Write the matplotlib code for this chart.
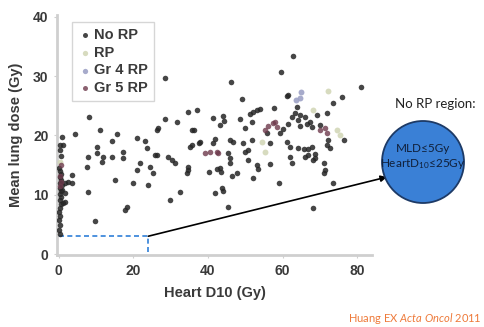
import numpy as np
import matplotlib
matplotlib.use("Agg")
import matplotlib.pyplot as plt
from matplotlib.patches import Ellipse

plt.rcParams['font.family'] = ['Liberation Sans', 'DejaVu Sans']
plt.rcParams['mathtext.fontset'] = 'custom'
plt.rcParams['mathtext.rm'] = 'Lato'
plt.rcParams['mathtext.it'] = 'Lato:italic'

# Heart D10 (Gy), mean lung dose (Gy)
no_rp_x = [8.0, 11.0, 4.3, 0.8, 1.1, 15.5, 14.2, 20.9, 23.1, 26.3, 10.2, 10.2, 7.8, 11.8,
           14.2, 17.2, 17.2, 23.6, 21.7, 24.4, 26.3, 7.5, 11.5, 29.2, 31.1, 35.7, 37.5,
           35.7, 20.9, 25.2, 15.0, 34.6, 34.3, 3.5, 2.4, 3.5, 19.8, 23.9, 7.8, 32.4, 29.8,
           18.2, 17.7, 9.7, 1.6, 1.6, 28.4, 46.1, 49.1, 34.6, 37.0, 28.4, 31.6, 41.3, 44.0,
           44.2, 48.5, 51.2, 51.7, 53.1, 26.5, 36.2, 43.2, 49.9, 37.8, 41.8, 41.3, 45.8,
           46.6, 49.3, 51.7, 35.1, 45.3, 45.8, 49.9, 50.7, 30.3, 34.6, 45.8, 43.2, 50.7,
           53.1, 62.7, 59.5, 61.1, 75.9, 73.5, 53.9, 57.6, 59.2, 60.1, 61.4, 62.5, 63.3,
           63.8, 64.1, 64.6, 66.0, 66.5, 67.3, 67.8, 69.2, 70.0, 72.1, 71.8, 76.4, 56.6,
           61.1, 61.9, 64.1, 65.7, 66.8, 67.8, 68.6, 61.9, 62.5, 66.0, 68.1, 71.0, 71.0,
           73.5, 59.0, 56.6, 53.4, 52.0, 40.2, 42.4, 43.4, 46.4, 47.7, 41.8, 43.7, 44.0,
           45.3, 68.1, 81.0, 52.0, 64.6, 71.8, 55.8, 72.7, 66.8, 68.6, 71.3, 61.4, 25.7,
           0.3, 0.3, 0.5, 0.0, 0.3, 0.5, 0.3, 0.5, 0.3, 0.8, 0.3, 0.5, 0.3, 0.5, 0.3, 0.5,
           0.3, 0.0, 0.3, 0.0, 0.3, 0.0, 0.3, 0.8, 1.1, 1.6]
no_rp_y = [23.1, 20.9, 20.2, 19.7, 18.4, 20.2, 19.1, 19.6, 19.1, 20.9, 18.0, 17.0, 16.4, 16.4,
           16.4, 17.2, 16.2, 17.9, 15.3, 14.7, 16.7, 14.7, 15.5, 16.4, 15.3, 18.4, 18.7,
           20.9, 14.2, 13.7, 12.5, 14.2, 13.7, 13.3, 12.1, 12.0, 12.0, 11.6, 10.5, 10.5, 9.1,
           7.9, 7.4, 5.6, 12.0, 8.8, 29.7, 29.0, 26.1, 23.9, 24.3, 22.8, 22.3, 22.9, 23.3,
           22.4, 22.8, 23.6, 22.3, 24.3, 21.2, 20.9, 21.8, 21.2, 18.9, 19.4, 18.7, 19.2,
           18.9, 18.7, 19.2, 18.0, 17.0, 16.2, 17.2, 17.5, 15.9, 14.7, 15.3, 14.5, 15.9,
           15.0, 33.4, 30.7, 26.6, 26.5, 25.5, 24.5, 24.6, 20.4, 21.1, 21.9, 23.1, 23.8,
           24.8, 22.6, 21.6, 23.1, 21.9, 22.3, 21.4, 23.4, 21.8, 19.2, 18.4, 19.2, 18.7,
           18.9, 18.0, 17.9, 17.7, 17.7, 18.0, 16.9, 16.4, 15.3, 16.4, 15.9, 15.3, 13.7,
           12.0, 12.0, 15.2, 14.3, 12.8, 13.8, 14.3, 13.8, 13.2, 13.7, 10.3, 11.1, 10.6,
           7.9, 7.8, 28.2, 23.9, 23.4, 23.8, 20.4, 17.9, 16.7, 16.2, 14.2, 26.8, 16.7,
           18.4, 17.5, 16.5, 14.5, 14.0, 13.5, 13.0, 12.5, 12.0, 11.6, 11.1, 10.6, 10.1, 9.6,
           9.1, 8.4, 7.8, 7.1, 6.4, 5.7, 4.9, 4.0, 3.4, 10.8, 8.6, 10.3]

rp_x = [0.3, 72.1, 68.1, 74.5, 55.2, 75.5, 54.4]
rp_y = [15.5, 27.5, 24.3, 20.9, 17.2, 20.0, 18.9]

gr4_x = [64.6, 65.0, 63.6]
gr4_y = [26.3, 27.3, 25.9]

gr5_x = [39.1, 40.5, 42.4, 42.6, 55.2, 56.0, 57.4, 58.4, 57.9, 0.3, 0.5, 0.3, 0.5, 71.3, 71.8, 70.0]
gr5_y = [17.0, 17.2, 17.2, 17.0, 20.9, 21.6, 22.1, 21.4, 22.3, 13.2, 12.2, 11.4, 15.0, 21.2, 20.4, 20.9]

# no-RP region limits as drawn
box_x = 24
box_y = 3

fig = plt.figure(figsize=(4.84, 3.27), dpi=100)
ax = fig.add_axes([57 / 484, 0.2196, 315 / 484, 0.7346])

ax.scatter(no_rp_x, no_rp_y, s=16, color='#262626', alpha=0.85, linewidths=0, label='No RP', zorder=3)
ax.scatter(rp_x, rp_y, s=18, color='#d3d7b8', alpha=0.9, linewidths=0, label='RP', zorder=3)
ax.scatter(gr4_x, gr4_y, s=18, color='#9ea2c6', alpha=0.9, linewidths=0, label='Gr 4 RP', zorder=3)
ax.scatter(gr5_x, gr5_y, s=16, color='#6e3a4c', alpha=0.8, linewidths=0, label='Gr 5 RP', zorder=3)

ax.plot([0, box_x, box_x], [box_y, box_y, 0], ls='--', color='#2f7fd8', lw=1.2, zorder=2,
        dashes=(3, 2))

ax.set_xlim(-0.5, 84)
ax.set_ylim(-0.2, 40.3)
ax.set_xticks([0, 20, 40, 60, 80])
ax.set_yticks([0, 10, 20, 30, 40])
for s in ['top', 'right']:
    ax.spines[s].set_visible(False)
for s in ['left', 'bottom']:
    ax.spines[s].set_color('#cfcfcf')
    ax.spines[s].set_linewidth(2)
ax.tick_params(length=2, color='#cfcfcf', labelcolor='#3a3a3a', labelsize=10, pad=4)
for lab in ax.get_xticklabels() + ax.get_yticklabels():
    lab.set_fontweight('bold')

ax.set_xlabel('Heart D10 (Gy)', fontsize=10.5, fontweight='bold', color='#3a3a3a', labelpad=6)
ax.set_ylabel('Mean lung dose (Gy)', fontsize=10.5, fontweight='bold', color='#3a3a3a', labelpad=7)

leg = ax.legend(loc='upper left', bbox_to_anchor=(0.025, 1.0), frameon=True, fancybox=False,
                handletextpad=0.1, handlelength=1.0, labelspacing=0.25, borderpad=0.4,
                prop={'weight': 'bold', 'size': 10.5}, markerscale=0.9)
leg.get_frame().set_edgecolor('#cccccc')
leg.get_frame().set_linewidth(1.0)
for t in leg.get_texts():
    t.set_color('#3a3a3a')

# arrow to the region bubble
ax.annotate('', xy=(387 / 484, 1 - 177 / 327), xycoords='figure fraction',
            xytext=(box_x, box_y), textcoords='data', annotation_clip=False,
            arrowprops=dict(arrowstyle='-|>', color='black', lw=1.2, mutation_scale=9,
                            shrinkA=0, shrinkB=0))

bubble = Ellipse((423 / 484, 1 - 162 / 327), 82 / 484, 82 / 327, transform=fig.transFigure,
                 facecolor='#3a80d6', edgecolor='#1d3a66', lw=1.3)
fig.add_artist(bubble)
fig.text(435 / 484, 1 - 104 / 327, 'No RP region:', ha='center', va='center', fontsize=9.5,
         family=['Lato', 'DejaVu Sans'], color='#222222')
fig.text(423 / 484, 1 - 149 / 327, 'MLD≤5Gy', ha='center', va='center', fontsize=8.5,
         family=['Lato', 'DejaVu Sans'], color='#10203a')
fig.text(423 / 484, 1 - 164 / 327, r'HeartD$_{10}$≤25Gy', ha='center', va='center', fontsize=8.5,
         family=['Lato', 'DejaVu Sans'], color='#10203a')

fig.text(482 / 484, 1 - 318 / 327, r'Huang EX $\mathit{Acta\ Oncol}$ 2011', ha='right', va='center',
         fontsize=8, family=['Lato', 'DejaVu Sans'], color='#ee7a3a')

fig.savefig('out.png', dpi=100)
